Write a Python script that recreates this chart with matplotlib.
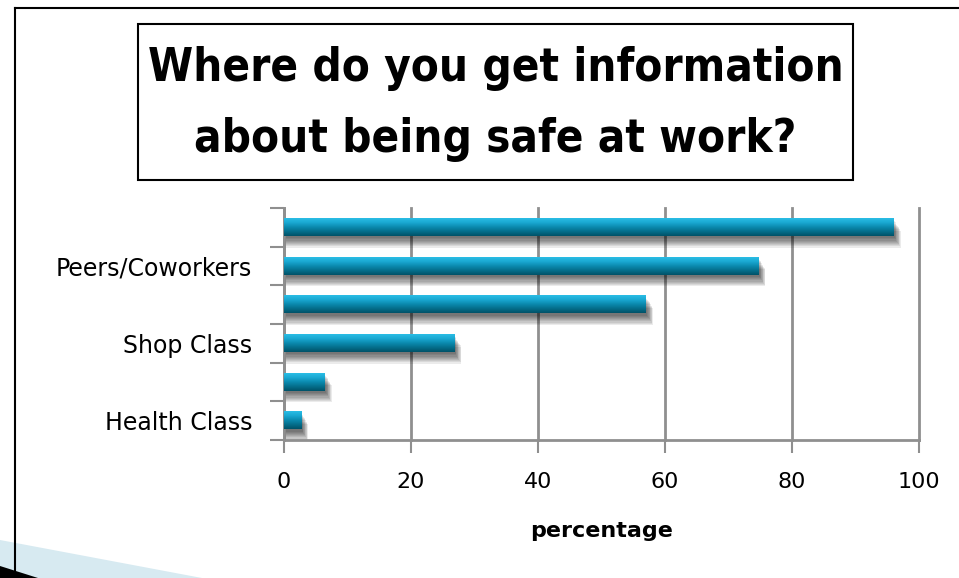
import numpy as np
import matplotlib
matplotlib.use("Agg")
import matplotlib.pyplot as plt
from matplotlib.patches import Rectangle, Polygon
from matplotlib.lines import Line2D

# Daten (von unten nach oben, wie im Diagramm)
categories = ["Health Class", "", "Shop Class", "", "Peers/Coworkers", ""]
values = [2.7, 6.4, 26.8, 57.0, 74.7, 96.0]
xticks = [0, 20, 40, 60, 80, 100]
title_lines = ["Where do you get information", "about being safe at work?"]
xlabel = "percentage"

W, H = 959, 578


def px(x, y):
    # Pixel -> Figurkoordinaten
    return x / W, 1 - y / H


fig = plt.figure(figsize=(W / 100, H / 100), dpi=100)
fig.patch.set_facecolor("white")

# Folienrahmen und Deko unten links
fig.add_artist(Polygon([px(0, 540), px(202, 578), px(0, 578)], closed=True,
                       transform=fig.transFigure, facecolor="#d7eaf1", edgecolor="none"))
fig.add_artist(Polygon([px(0, 566), px(38, 578), px(0, 578)], closed=True,
                       transform=fig.transFigure, facecolor="black", edgecolor="none"))
fig.add_artist(Line2D([px(15, 8)[0], px(15, 578)[0]], [px(15, 8)[1], px(15, 578)[1]],
                      transform=fig.transFigure, color="black", lw=1.5))
fig.add_artist(Line2D([px(15, 8)[0], px(959, 8)[0]], [px(15, 8)[1], px(959, 8)[1]],
                      transform=fig.transFigure, color="black", lw=1.5))

# Titelbox
bx0, by0 = px(138, 180)
bx1, by1 = px(853, 24)
fig.add_artist(Rectangle((bx0, by0), bx1 - bx0, by1 - by0, transform=fig.transFigure,
                         facecolor="white", edgecolor="black", lw=1.5))
for line, base in zip(title_lines, [81, 152]):
    tx, ty = px(495.5, base)
    fig.text(tx, ty, line, ha="center", va="baseline", fontsize=32.8, fontweight="bold",
             fontstretch="condensed", family="DejaVu Sans")

# Achsen
l, b = px(284, 440)
r, t = px(919, 208)
ax = fig.add_axes([l, b, r - l, t - b])
ax.set_xlim(0, 100)
ax.set_ylim(-0.5, len(values) - 0.5)

grey = "#8f8f8f"
for s in ["top", "right"]:
    ax.spines[s].set_visible(False)
for s in ["left", "bottom"]:
    ax.spines[s].set_color(grey)
    ax.spines[s].set_linewidth(2)

ax.set_xticks(xticks)
ax.set_xticklabels([str(v) for v in xticks])
ax.tick_params(axis="x", length=9, width=1.5, color=grey, pad=14, labelsize=16)
ax.xaxis.grid(True, color=grey, lw=2)
for gl in ax.get_xgridlines():
    gl.set_clip_on(False)
ax.set_axisbelow(True)

ypos = np.arange(len(values))
ax.set_yticks(ypos)
ax.set_yticklabels(categories)
ax.tick_params(axis="y", which="major", length=0, pad=23, labelsize=17)
ax.set_yticks(np.arange(len(values) + 1) - 0.5, minor=True)
ax.tick_params(axis="y", which="minor", length=10, width=1.5, color=grey)

ax.set_xlabel(xlabel, fontsize=16, fontweight="bold", labelpad=21)

# Balken
bar_h = 0.44
bars = ax.barh(ypos, values, height=bar_h, color="none", edgecolor="none", zorder=3)

# Farbverlauf oben hell -> unten dunkel
grad_cols = np.array([
    [0x2a, 0xbd, 0xe5],
    [0x1a, 0xa8, 0xd2],
    [0x0b, 0x8a, 0xaf],
    [0x04, 0x6e, 0x8b],
    [0x00, 0x52, 0x68],
]) / 255.0
n = 64
tt = np.linspace(0, 1, n)
pos = np.linspace(0, 1, len(grad_cols))
grad = np.stack([np.interp(tt, pos, grad_cols[:, c]) for c in range(3)], axis=1)
grad_img = grad[:, None, :]

# Schatten nach unten, weich auslaufend
dy = 1 / 38.7
dx = 1 / 6.35
for bar in bars:
    x0, y0 = bar.get_x(), bar.get_y()
    w, h = bar.get_width(), bar.get_height()
    for k in range(9):
        s = k * 1.15
        ax.add_patch(Rectangle((x0, y0 - 2.5 * dy - s * dy), w + 1.5 * dx + s * 0.6 * dx, h,
                               facecolor="black", edgecolor="none", alpha=0.08, zorder=2))
    ax.imshow(grad_img, extent=(x0, x0 + w, y0, y0 + h), aspect="auto",
              origin="upper", zorder=4, interpolation="bilinear")

ax.set_xlim(0, 100)
ax.set_ylim(-0.5, len(values) - 0.5)

fig.savefig("out.png", dpi=100)
